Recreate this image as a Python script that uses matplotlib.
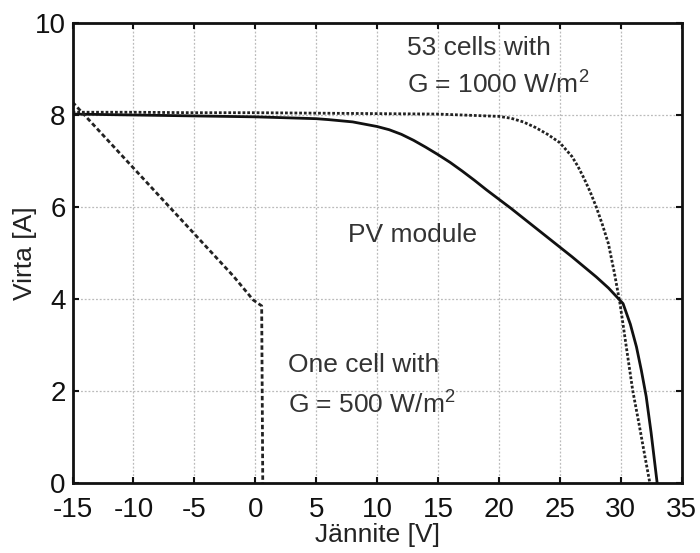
import matplotlib
matplotlib.use("Agg")
import matplotlib.pyplot as plt

plt.rcParams['font.family'] = ['Liberation Sans', 'DejaVu Sans']
plt.rcParams['mathtext.fontset'] = 'custom'
plt.rcParams['mathtext.rm'] = 'Liberation Sans'
plt.rcParams['axes.unicode_minus'] = False

# Data
pv_module_v = [-15, -10, -5, 0, 5, 6, 8, 10, 11, 12, 13, 14, 15, 16, 17, 18, 19, 20,
               21, 22, 23, 24, 25, 26, 27, 28, 29, 30.2, 30.8, 31.3, 31.7, 32.1, 32.5, 33.0]
pv_module_i = [8.02, 8.0, 7.98, 7.96, 7.92, 7.9, 7.85, 7.75, 7.68, 7.58, 7.45, 7.3, 7.14, 6.97,
               6.78, 6.58, 6.37, 6.17, 5.97, 5.76, 5.55, 5.34, 5.13, 4.92, 4.7, 4.48, 4.24,
               3.9, 3.45, 2.96, 2.45, 1.88, 1.1, 0.0]

cells53_v = [-15, -10, -5, 0, 5, 10, 15, 20, 21, 22, 23, 24, 25, 26, 26.5, 27, 27.5, 28,
             28.5, 29, 29.5, 29.95, 30.5, 31.0, 31.5, 32.0, 32.4]
cells53_i = [8.06, 8.06, 8.05, 8.05, 8.04, 8.03, 8.02, 7.97, 7.93, 7.85, 7.73, 7.58, 7.4,
             7.1, 6.88, 6.62, 6.33, 6.0, 5.62, 5.2, 4.55, 3.9, 2.9, 2.0, 1.3, 0.57, 0.0]

one_cell_v = [-15, -1.8, -0.17, 0.53, 0.62]
one_cell_i = [8.28, 4.5, 3.98, 3.85, 0.0]

x_ticks = [-15, -10, -5, 0, 5, 10, 15, 20, 25, 30, 35]
y_ticks = [0, 2, 4, 6, 8, 10]

fig = plt.figure(figsize=(7.0, 5.53), dpi=100)
ax = fig.add_axes([0.1036, 0.1266, 0.87, 0.8318])

ax.plot(cells53_v, cells53_i, color='#222222', lw=2.0, linestyle=(0, (1.0, 0.7)))
ax.plot(pv_module_v, pv_module_i, color='#111111', lw=2.0, linestyle='-')
ax.plot(one_cell_v, one_cell_i, color='#222222', lw=2.0, linestyle=(0, (1.6, 1.0)))

ax.set_xlim(-15, 35)
ax.set_ylim(0, 10)
ax.set_xticks(x_ticks)
ax.set_yticks(y_ticks)
ax.grid(True, color='#bbbbbb', linestyle=(0, (1.5, 1.5)), linewidth=0.9)

for s in ax.spines.values():
    s.set_linewidth(2.0)
    s.set_color('#111111')

ax.tick_params(direction='in', length=4, width=1.5, top=True, right=True,
               labelsize=20, colors='#111111')
ax.tick_params(axis='x', pad=10)
ax.tick_params(axis='y', pad=5)

ax.set_xlabel('Jännite [V]', fontsize=19, labelpad=0, color='#222222')
ax.set_ylabel('Virta [A]', fontsize=19, labelpad=-2, color='#222222')

tkw = dict(fontsize=19, color='#333333', va='baseline', ha='left')
ax.text(12.5, 9.30, '53 cells with', **tkw)
ax.text(12.5, 8.48, 'G = 1000 W/m$^2$', **tkw)
ax.text(7.6, 5.24, 'PV module', **tkw)
ax.text(2.7, 2.41, 'One cell with', **tkw)
ax.text(2.7, 1.54, 'G = 500 W/m$^2$', **tkw)

fig.savefig('out.png', dpi=100)
